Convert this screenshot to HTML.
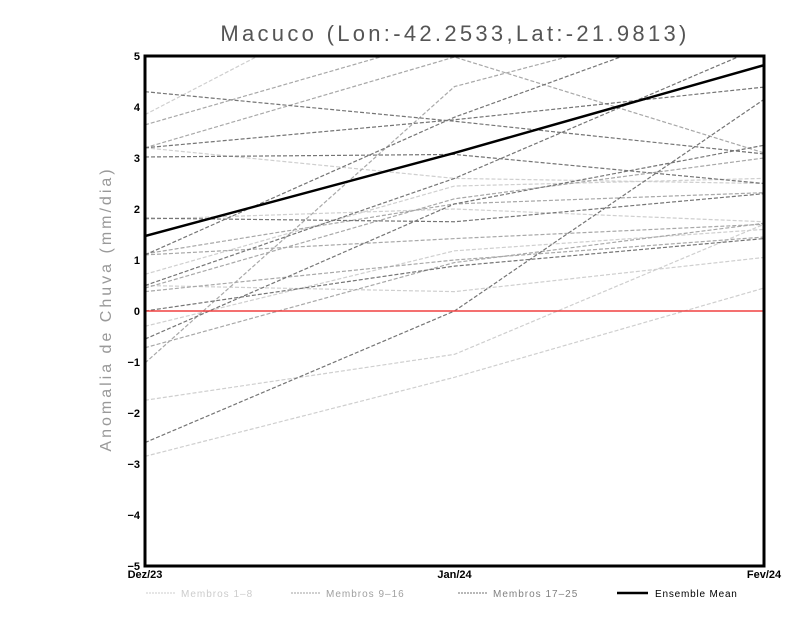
<!DOCTYPE html>
<html><head><meta charset="utf-8"><style>
body{margin:0;background:#fff}
svg{display:block;font-family:"Liberation Sans",sans-serif}
</style></head><body>
<svg id="chart" width="800" height="618" viewBox="0 0 800 618">
<rect width="800" height="618" fill="#fff"/>
<text x="455" y="41" text-anchor="middle" font-size="22" fill="#555" style="letter-spacing:3.3px">Macuco (Lon:-42.2533,Lat:-21.9813)</text>
<text transform="translate(111,309) rotate(-90)" text-anchor="middle" font-size="16" fill="#999" style="letter-spacing:3px">Anomalia de Chuva (mm/dia)</text>
<g id="marks"></g>
<rect x="145" y="56" width="619" height="510" fill="none" stroke="#000" stroke-width="3"/>
<g id="axes"></g>
<g font-size="10">
<line x1="146" y1="593" x2="175" y2="593" stroke="#ccc" stroke-dasharray="2,1"/><text x="181" y="597" fill="#ccc" style="letter-spacing:1px">Membros 1–8</text>
<line x1="291" y1="593" x2="320" y2="593" stroke="#a0a0a0" stroke-dasharray="2,1"/><text x="326" y="597" fill="#a0a0a0" style="letter-spacing:1px">Membros 9–16</text>
<line x1="458" y1="593" x2="487" y2="593" stroke="#707070" stroke-dasharray="2,1"/><text x="493" y="597" fill="#808080" style="letter-spacing:1px">Membros 17–25</text>
<line x1="617" y1="593" x2="648" y2="593" stroke="#000" stroke-width="2.5"/><text x="655" y="597" fill="#000" style="letter-spacing:0.8px">Ensemble Mean</text>
</g>
</svg>
<script>
const months = ["Dez/23","Jan/24","Fev/24"];
const yTicks = [-5,-4,-3,-2,-1,0,1,2,3,4,5];
const membersLight = [[3.85,7.0,8.0],[3.2,2.6,2.5],[1.8,2.0,1.75],[0.72,2.45,2.6],[0.5,0.38,1.05],[-0.3,1.18,1.6],[-1.75,-0.85,1.7],[-2.85,-1.3,0.45]];
const membersMid = [[3.65,5.4,6.5],[1.1,1.42,1.7],[0.45,2.2,3.0],[-1.02,4.4,6.0],[-0.72,0.95,1.72],[0.38,1.0,1.45],[1.12,2.1,2.32],[3.2,4.98,3.1]];
const membersDark = [[4.3,3.72,3.08],[3.2,3.75,4.39],[3.02,3.07,2.5],[1.82,1.75,2.3],[1.1,3.8,6.0],[0.5,2.6,5.2],[0,0.88,1.42],[-0.55,2.1,3.25],[-2.58,0,4.15]];
const ensembleMean = [1.47,3.1,4.82];
const NS="http://www.w3.org/2000/svg";
const X0=145,X1=764,Y0=566,Y1=56;
function xs(i){return X0+(X1-X0)*i/(months.length-1);}
function ys(v){return Y0-(v+5)/10*(Y0-Y1);}
const marks=document.getElementById('marks');
const clip=document.createElementNS(NS,'clipPath');clip.setAttribute('id','pc');
const cr=document.createElementNS(NS,'rect');cr.setAttribute('x',X0);cr.setAttribute('y',Y1);cr.setAttribute('width',X1-X0);cr.setAttribute('height',Y0-Y1);
clip.appendChild(cr);marks.appendChild(clip);
marks.setAttribute('clip-path','url(#pc)');
function line(vals,color,w,dash,name){
  const p=document.createElementNS(NS,'polyline');
  p.setAttribute('points',vals.map((v,i)=>xs(i)+','+ys(v)).join(' '));
  p.setAttribute('fill','none');p.setAttribute('stroke',color);p.setAttribute('stroke-width',w);
  if(dash)p.setAttribute('stroke-dasharray',dash);
  
  
  marks.appendChild(p);
}
membersLight.forEach(m=>line(m,'#cfcfcf',1.2,'4,2','member-line-light'));
membersMid.forEach(m=>line(m,'#a8a8a8',1.2,'4,2','member-line-mid'));
membersDark.forEach(m=>line(m,'#757575',1.2,'4,2','member-line-dark'));
const z=document.createElementNS(NS,'line');
z.setAttribute('x1',X0);z.setAttribute('x2',X1);z.setAttribute('y1',ys(0));z.setAttribute('y2',ys(0));
z.setAttribute('stroke','#f04040');z.setAttribute('stroke-width',1.5);


marks.appendChild(z);
line(ensembleMean,'#000',2.5,null,'ensemble-mean-line');
const axes=document.getElementById('axes');
yTicks.forEach(t=>{
  const tx=document.createElementNS(NS,'text');
  tx.setAttribute('x',140);tx.setAttribute('y',ys(t)+4);tx.setAttribute('text-anchor','end');
  tx.setAttribute('font-size','11');tx.setAttribute('font-weight','bold');
  tx.textContent=t<0?'−'+(-t):String(t);
  
  
  axes.appendChild(tx);
});
months.forEach((m,i)=>{
  const tx=document.createElementNS(NS,'text');
  tx.setAttribute('x',xs(i));tx.setAttribute('y',578);
  tx.setAttribute('text-anchor','middle');
  tx.setAttribute('font-size','11');tx.setAttribute('font-weight','bold');
  tx.textContent=m;
  
  
  axes.appendChild(tx);
});
</script>
</body></html>
